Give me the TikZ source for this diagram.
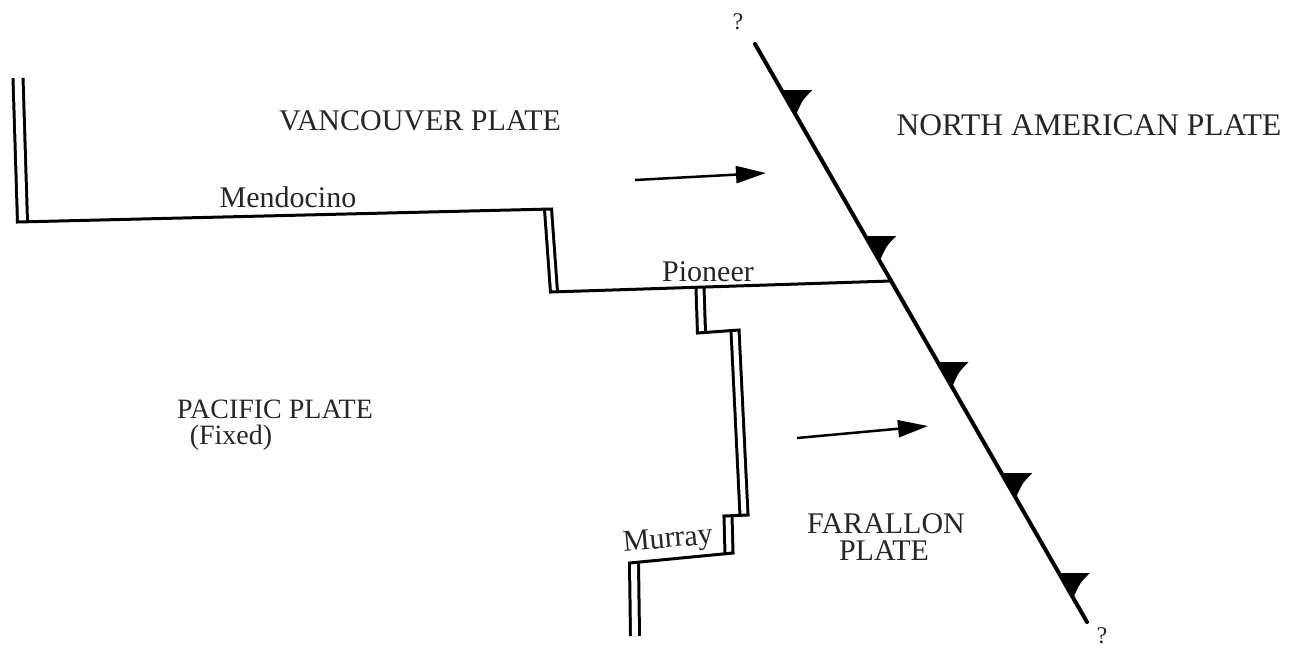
\documentclass[tikz,border=0pt]{standalone}
\usepackage{fontspec}
\setmainfont{Liberation Serif}
\usetikzlibrary{arrows.meta,calc}
\begin{document}
\begin{tikzpicture}[x=1pt,y=-1pt,
  ridge/.style={draw=black, line width=3pt, double=white, double distance=5pt},
  transform/.style={draw=black, line width=3pt, line cap=rect},
  trench/.style={draw=black, line width=4pt, line cap=round},
  tooth/.style={fill=black},
  motion/.style={draw=black, line width=2.5pt, -{Triangle[length=30pt,width=17pt]}},
  lbl/.style={font=\fontsize{30}{36}\selectfont, inner sep=0pt, text=black!85},
  qm/.style={font=\fontsize{24}{28}\selectfont, inner sep=0pt, text=black!85}
]
\useasboundingbox (0,0) rectangle (1293,649);
% trench
\coordinate (tn) at (755,44);
\coordinate (ts) at (1087,622);
% ridge / transform vertices
\coordinate (r1a) at (18,78);   \coordinate (r1b) at (22.5,222);
\coordinate (r2a) at (548,209); \coordinate (r2b) at (554,292);
\coordinate (pe) at ($(tn)!0.41!(ts)$);
\coordinate (r3a) at (700,288); \coordinate (r3b) at (701.5,333);
\coordinate (r4a) at (735,330); \coordinate (r4b) at (744,515);
\coordinate (r5a) at (728,516); \coordinate (r5b) at (729,553);
\coordinate (r6a) at (634,563); \coordinate (r6b) at (635,636);
% ridges
\draw[ridge, double distance=7pt] (r1a) -- (r1b);
\draw[ridge, double distance=4pt] (r2a) -- (r2b);
\draw[ridge] (r3a) -- (r3b);
\draw[ridge] (r4a) -- (r4b);
\draw[ridge] (r5a) -- (r5b);
\draw[ridge, double distance=6pt] (r6a) -- (r6b);
% transforms
\draw[transform] ($(r1b)+(-5,0)$) -- ($(r2a)+(3.5,0)$);
\draw[transform] ($(r2b)+(-3.5,0)$) -- (pe);
\draw[transform] ($(r3b)+(-4,0)$) -- ($(r4a)+(4,0)$);
\draw[transform] ($(r4b)+(4,0)$) -- ($(r5a)+(-4,0)$);
\draw[transform] ($(r5b)+(4,0)$) -- ($(r6a)+(-4.5,0)$);
% trench with teeth
\draw[trench] (tn) -- (ts);
\foreach \f in {0.0796,0.3322,0.5502,0.7422,0.9152}{
  \pgfmathsetmacro{\g}{\f+0.0433}
  \fill[tooth] ($(tn)!\f!(ts)$) -- ++(31,0)
     .. controls ($($(tn)!\f!(ts)$)+(21,10)$) .. ($(tn)!\g!(ts)$) -- cycle;
}
% motion arrows
\coordinate (a1s) at (635,180); \coordinate (a1e) at (766,173);
\coordinate (a2s) at (797,438); \coordinate (a2e) at (928,426);
\draw[motion] (a1s) -- (a1e);
\draw[motion] (a2s) -- (a2e);
% labels
\node[lbl] (van) at (420,121) {VANCOUVER PLATE};
\node[lbl, font=\fontsize{31.5}{36}\selectfont] (nam) at (1089,125) {NORTH AMERICAN PLATE};
\node[lbl, anchor=base] (men) at (288,207) {Mendocino};
\node[lbl, anchor=base] (pio) at (708,281) {Pioneer};
\node[lbl, font=\fontsize{28}{34}\selectfont] (pac) at (275,409) {PACIFIC PLATE};
\node[lbl, font=\fontsize{28}{34}\selectfont] (fix) at (231,438) {(Fixed)};
\node[lbl] (far1) at (886,524) {FARALLON};
\node[lbl] (far2) at (884,551) {PLATE};
\node[lbl, rotate=5] (mur) at (668,541) {Murray};
\node[qm] (q1) at (738,22) {?};
\node[qm] (q2) at (1102,636) {?};
\end{tikzpicture}
\end{document}
